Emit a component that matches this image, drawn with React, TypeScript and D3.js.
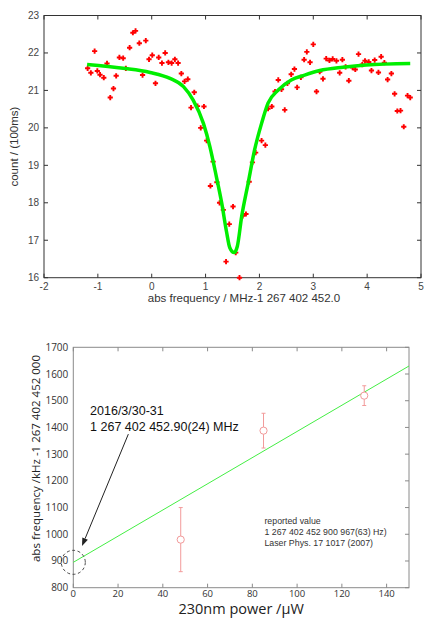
import React from 'react';
import * as d3 from 'd3';

// canvas
const width = 425;
const height = 618;

// top chart: measured counts vs frequency offset (MHz)
const freqs = [
  -1.19, -1.13, -1.06, -1.01, -0.96, -0.89, -0.83, -0.77, -0.71, -0.66, -0.6, -0.53, -0.48, -0.41,
  -0.35, -0.3, -0.23, -0.17, -0.11, -0.05, 0.01, 0.07, 0.13, 0.19, 0.25, 0.31, 0.37, 0.43, 0.49,
  0.55, 0.61, 0.67, 0.73, 0.79, 0.85, 0.91, 0.97, 1.02, 1.09, 1.14, 1.21, 1.26, 1.33, 1.38, 1.44,
  1.51, 1.56, 1.63, 1.69, 1.75, 1.81, 1.87, 1.93, 2.04, 2.11, 2.16, 2.23, 2.29, 2.35, 2.41, 2.47,
  2.52, 2.59, 2.65, 2.7, 2.77, 2.83, 2.88, 2.94, 3.0, 3.06, 3.12, 3.18, 3.24, 3.3, 3.36, 3.43,
  3.49, 3.54, 3.6, 3.66, 3.73, 3.78, 3.84, 3.91, 3.96, 4.03, 4.08, 4.14, 4.21, 4.26, 4.32, 4.38,
  4.45, 4.51, 4.56, 4.62, 4.68, 4.75, 4.8,
];
const counts = [
  21.59, 21.47, 22.05, 21.52, 21.42, 21.34, 21.72, 20.81, 21.05, 21.39, 21.88, 21.86, 21.59, 22.14,
  22.54, 22.59, 22.26, 21.41, 22.33, 21.83, 21.94, 21.19, 21.88, 21.73, 22.0, 21.75, 21.73, 21.83,
  21.73, 21.45, 21.24, 21.3, 20.54, 20.95, 20.58, 20.0, 20.57, 19.66, 18.45, 19.1, 18.55, 18.0,
  17.81, 16.43, 17.43, 17.9, 16.67, 16.0, 17.65, 17.7, 18.56, 19.08, 19.34, 19.66, 19.54, 20.51,
  20.57, 20.97, 21.28, 21.03, 20.48, 21.19, 21.43, 21.57, 21.08, 21.35, 21.82, 22.03, 21.75, 22.23,
  20.97, 21.5, 21.31, 21.85, 21.8, 21.84, 21.79, 21.47, 21.82, 21.63, 21.26, 21.61, 21.56, 21.97,
  21.69, 21.79, 21.76, 21.53, 21.81, 21.48, 21.9, 21.74, 21.29, 21.45, 20.91, 20.45, 20.46, 20.03,
  20.86, 20.81,
];

// fitted line profile
const fitFreqs = [
  -1.2, -0.53, -0.03, 0.34, 0.59, 0.77, 0.96, 1.08, 1.2, 1.3, 1.39, 1.45, 1.53, 1.59, 1.67, 1.79,
  1.91, 2.04, 2.16, 2.35, 2.59, 2.84, 3.12, 3.55, 3.98, 4.8,
];
const fitCounts = [
  21.69, 21.59, 21.48, 21.32, 21.1, 20.74, 20.12, 19.5, 18.7, 17.99, 17.22, 16.8, 16.67, 16.84,
  17.63, 18.52, 19.41, 20.12, 20.66, 21.01, 21.28, 21.41, 21.53, 21.62, 21.68, 21.72,
];

const topXTicks = [-2, -1, 0, 1, 2, 3, 4, 5];
const topYTicks = [16, 17, 18, 19, 20, 21, 22, 23];

// bottom chart: frequency vs 230nm power
const powers = [48, 85, 130];
const shifts = [980, 1388, 1519];
const shiftErrs = [120, 65, 37];
const lineIntercept = 895; // kHz at 0 uW
const lineSlope = 4.9; // kHz per uW

const botXTicks = [0, 20, 40, 60, 80, 100, 120, 140];
const botYTicks = [800, 900, 1000, 1100, 1200, 1300, 1400, 1500, 1600, 1700];

// scales
const xTop = d3.scaleLinear().domain([-2, 5]).range([44, 421]);
const yTop = d3.scaleLinear().domain([16, 23]).range([277.7, 15.5]);
const xBot = d3.scaleLinear().domain([0, 150]).range([73.3, 409]);
const yBot = d3.scaleLinear().domain([800, 1700]).range([587.7, 347.3]);

const fitLine = d3
  .line<number>()
  .x((d, i) => xTop(fitFreqs[i]))
  .y((d) => yTop(d))
  .curve(d3.curveMonotoneX);

const topFont = '"Liberation Sans", Arial, sans-serif';
const botFont = '"Open Sans", sans-serif';
const tickLen = 4;
const redColor = '#ff0000';
const pinkColor = '#f29a9a';

const Plus = ({ x, y }: { x: number; y: number }) => (
  <path
    d={`M${x - 2.6},${y}H${x + 2.6}M${x},${y - 2.6}V${y + 2.6}`}
    stroke={redColor}
    strokeWidth={1.9}
  />
);

const TopChart = () => {
  const [x0, x1] = xTop.range();
  const [y0, y1] = yTop.range();
  return (
    <g fontFamily={topFont}>
      {/* frame */}
      <rect x={x0} y={y1} width={x1 - x0} height={y0 - y1} fill="none" stroke="#333" strokeWidth={1} />
      {topXTicks.map((t) => (
        <g key={'tx' + t}>
          <line x1={xTop(t)} x2={xTop(t)} y1={y0} y2={y0 - tickLen} stroke="#333" />
          <line x1={xTop(t)} x2={xTop(t)} y1={y1} y2={y1 + tickLen} stroke="#333" />
          <text x={xTop(t)} y={y0 + 12} fontSize={10} fill="#444" textAnchor="middle">
            {t}
          </text>
        </g>
      ))}
      {topYTicks.map((t) => (
        <g key={'ty' + t}>
          <line x1={x0} x2={x0 + tickLen} y1={yTop(t)} y2={yTop(t)} stroke="#333" />
          <line x1={x1} x2={x1 - tickLen} y1={yTop(t)} y2={yTop(t)} stroke="#333" />
          <text x={x0 - 5} y={yTop(t) + 3.5} fontSize={10} fill="#444" textAnchor="end">
            {t}
          </text>
        </g>
      ))}
      {freqs.map((f, i) => (
        <Plus key={'p' + i} x={xTop(f)} y={yTop(counts[i])} />
      ))}
      <path d={fitLine(fitCounts) || ''} fill="none" stroke="#00ee00" strokeWidth={3.5} />
      <text x={244} y={302} fontSize={11.5} fill="#333" textAnchor="middle">
        abs frequency / MHz-1 267 402 452.0
      </text>
      <text
        transform={`translate(18,${(y0 + y1) / 2}) rotate(-90)`}
        fontSize={11.5}
        fill="#333"
        textAnchor="middle"
      >
        count / (100ms)
      </text>
    </g>
  );
};

const BottomChart = () => {
  const [x0, x1] = xBot.range();
  const [y0, y1] = yBot.range();
  const axisColor = '#8a8a8a';
  const lineEnd = 150;

  // arrow from the label to the 0 uW intercept
  const ax1 = xBot(24.6);
  const ay1 = yBot(1375);
  const ax2 = xBot(3.9);
  const ay2 = yBot(956);
  const ang = Math.atan2(ay2 - ay1, ax2 - ax1);
  const headLen = 8;
  const headW = 3;
  const hx = ax2 - headLen * Math.cos(ang);
  const hy = ay2 - headLen * Math.sin(ang);
  const head = `M${ax2},${ay2}L${hx + headW * Math.sin(ang)},${hy - headW * Math.cos(ang)}L${
    hx - headW * Math.sin(ang)
  },${hy + headW * Math.cos(ang)}Z`;

  return (
    <g>
      <rect x={x0} y={y1} width={x1 - x0} height={y0 - y1} fill="none" stroke={axisColor} strokeWidth={1} />
      {botXTicks.map((t) => (
        <g key={'bx' + t}>
          <line x1={xBot(t)} x2={xBot(t)} y1={y0} y2={y0 - tickLen} stroke={axisColor} />
          <line x1={xBot(t)} x2={xBot(t)} y1={y1} y2={y1 + tickLen} stroke={axisColor} />
          <text x={xBot(t)} y={y0 + 9} fontSize={9.5} fill="#333" textAnchor="middle" fontFamily={botFont}>
            {t}
          </text>
        </g>
      ))}
      {botYTicks.map((t) => (
        <g key={'by' + t}>
          <line x1={x1} x2={x1 - tickLen} y1={yBot(t)} y2={yBot(t)} stroke={axisColor} />
          <text x={x0 - 5} y={yBot(t) + 3.5} fontSize={10} fill="#333" textAnchor="end" fontFamily={botFont}>
            {t}
          </text>
        </g>
      ))}
      {/* linear fit */}
      <line
        x1={xBot(0)}
        y1={yBot(lineIntercept)}
        x2={xBot(lineEnd)}
        y2={yBot(lineIntercept + lineSlope * lineEnd)}
        stroke="#44ee44"
        strokeWidth={1}
      />
      {/* measurements */}
      {powers.map((p, i) => (
        <g key={'m' + i} stroke={pinkColor} fill="none" strokeWidth={1}>
          <line x1={xBot(p)} x2={xBot(p)} y1={yBot(shifts[i] - shiftErrs[i])} y2={yBot(shifts[i] + shiftErrs[i])} />
          <line x1={xBot(p) - 2} x2={xBot(p) + 2} y1={yBot(shifts[i] - shiftErrs[i])} y2={yBot(shifts[i] - shiftErrs[i])} />
          <line x1={xBot(p) - 2} x2={xBot(p) + 2} y1={yBot(shifts[i] + shiftErrs[i])} y2={yBot(shifts[i] + shiftErrs[i])} />
          <circle cx={xBot(p)} cy={yBot(shifts[i])} r={3.6} fill="white" />
        </g>
      ))}
      {/* intercept marker */}
      <circle
        cx={xBot(0)}
        cy={yBot(lineIntercept)}
        r={12}
        fill="none"
        stroke="#333"
        strokeWidth={0.9}
        strokeDasharray="3,2.5"
      />
      <line x1={ax1} y1={ay1} x2={hx} y2={hy} stroke="#222" strokeWidth={1} />
      <path d={head} fill="#222" />
      <g fontFamily={topFont} fill="#111" fontSize={12.5}>
        <text x={xBot(7.5)} y={yBot(1448)}>2016/3/30-31</text>
        <text x={xBot(7.5)} y={yBot(1386)}>1 267 402 452.90(24) MHz</text>
      </g>
      <g fontFamily={topFont} fill="#333" fontSize={8.8}>
        <text x={xBot(85.4)} y={yBot(1037)}>reported value</text>
        <text x={xBot(85.4)} y={yBot(996)}>1 267 402 452 900 967(63) Hz)</text>
        <text x={xBot(85.4)} y={yBot(957)}>Laser Phys. 17 1017 (2007)</text>
      </g>
      <text
        x={(x0 + x1) / 2}
        y={613.5}
        fontSize={14.5}
        fill="#222"
        textAnchor="middle"
        fontFamily={botFont}
      >
        230nm power /µW
      </text>
      <text
        transform={`translate(40,${(y0 + y1) / 2 - 9}) rotate(-90)`}
        fontSize={11.5}
        fill="#222"
        textAnchor="middle"
        fontFamily={botFont}
      >
        abs frequency /kHz -1 267 402 452 000
      </text>
    </g>
  );
};

const App = () => (
  <svg
    width={width}
    height={height}
    style={{ position: 'absolute', left: 0, top: 0, background: 'white' }}
  >
    <TopChart />
    <BottomChart />
  </svg>
);

export default App;
